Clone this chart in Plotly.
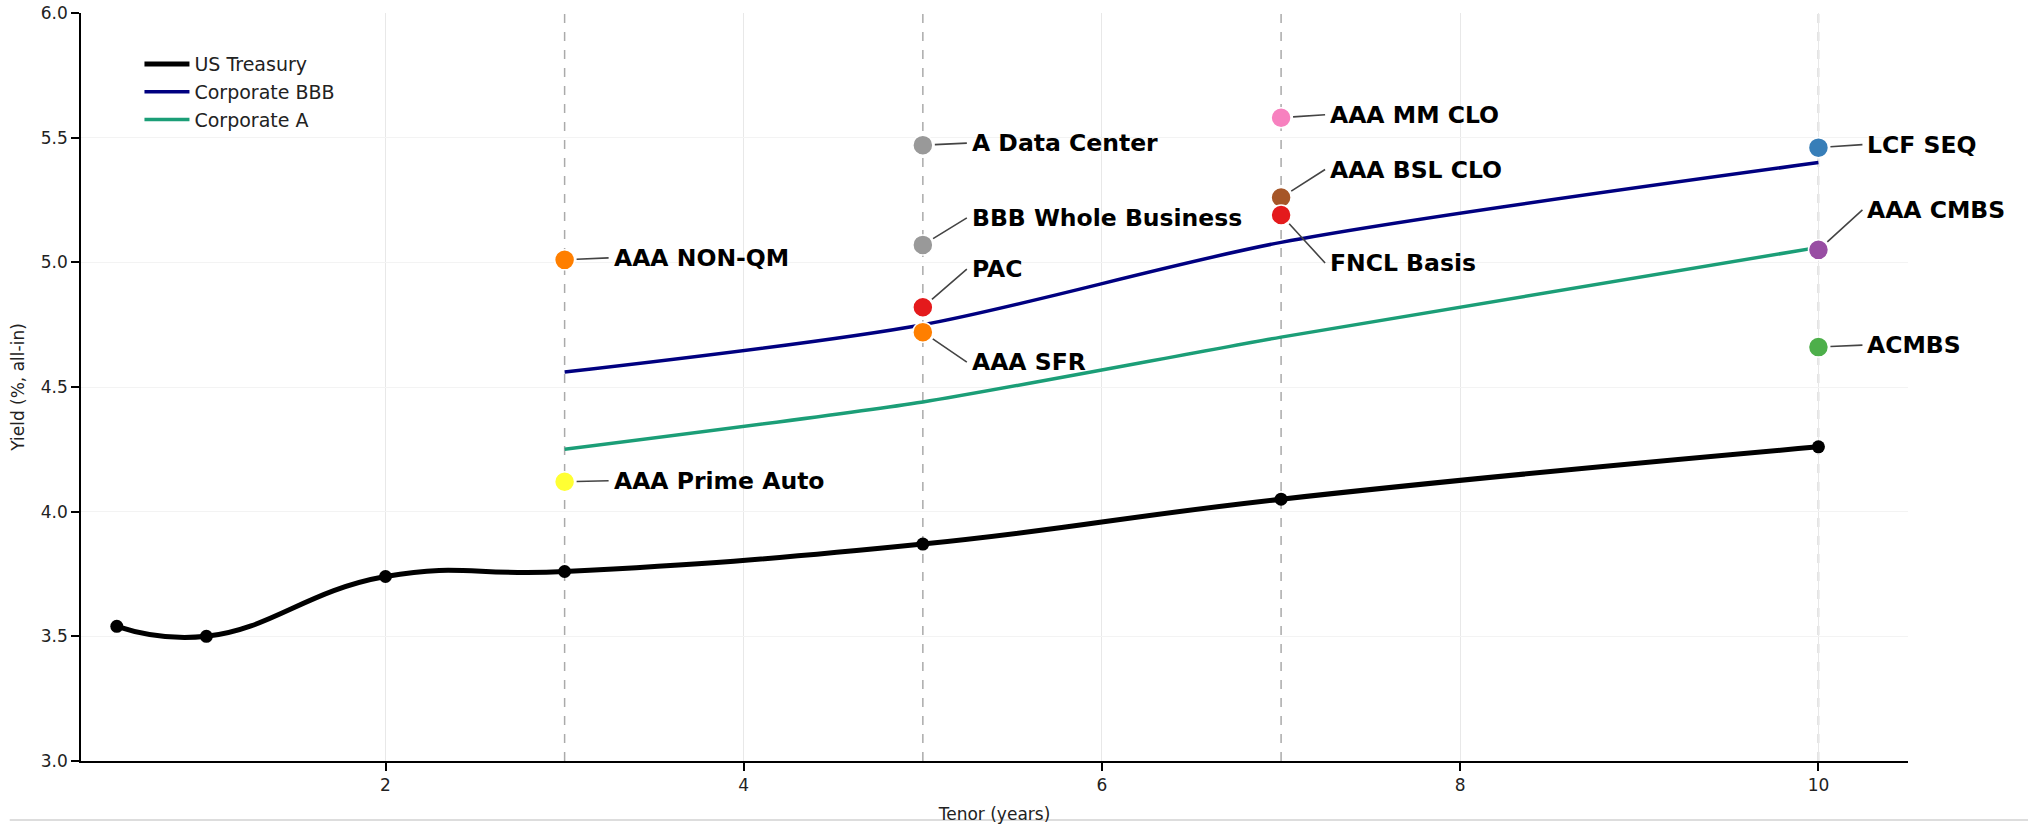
import plotly.graph_objects as go

# ---------------- data ----------------
ust_tenor = [0.5, 1, 2, 3, 5, 7, 10]
ust_yield = [3.54, 3.50, 3.74, 3.76, 3.87, 4.05, 4.26]

corp_tenor = [3, 5, 7, 10]
corp_bbb = [4.56, 4.75, 5.08, 5.40]
corp_a = [4.25, 4.44, 4.70, 5.06]

asset_names = ["AAA NON-QM", "AAA Prime Auto", "A Data Center", "BBB Whole Business",
               "PAC", "AAA SFR", "AAA MM CLO", "AAA BSL CLO", "FNCL Basis",
               "LCF SEQ", "AAA CMBS", "ACMBS"]
asset_tenor = [3, 3, 5, 5, 5, 5, 7, 7, 7, 10, 10, 10]
asset_yield = [5.01, 4.12, 5.47, 5.07, 4.82, 4.72, 5.58, 5.26, 5.19, 5.46, 5.05, 4.66]
asset_color = ["#ff7f00", "#ffff33", "#999999", "#999999", "#e41a1c", "#ff7f00",
               "#f781bf", "#a65628", "#e41a1c", "#377eb8", "#984ea3", "#4daf4a"]

marker_tenors = [3, 5, 7, 10]

# label offsets in pixels (style)
label_offsets = [(44, -2), (44, -1), (44, -2), (44, -27), (44, -38), (44, 30),
                 (44, -3), (44, -28), (44, 48), (44, -3), (44, -40), (44, -2)]

FONT = "DejaVu Sans"

fig = go.Figure()

# vertical dashed reference lines
for t in marker_tenors:
    fig.add_shape(type="line", xref="x", yref="paper", x0=t, x1=t, y0=0, y1=1,
                  line=dict(color="#aaaaaa", width=1.5, dash="dash"), layer="below")

fig.add_trace(go.Scatter(x=ust_tenor, y=ust_yield, mode="lines", name="US Treasury",
                         line=dict(color="black", width=5, shape="spline", smoothing=1.3)))
fig.add_trace(go.Scatter(x=ust_tenor, y=ust_yield, mode="markers", showlegend=False,
                         marker=dict(color="black", size=13)))
fig.add_trace(go.Scatter(x=corp_tenor, y=corp_bbb, mode="lines", name="Corporate BBB",
                         line=dict(color="#000080", width=3.5, shape="spline", smoothing=0.8)))
fig.add_trace(go.Scatter(x=corp_tenor, y=corp_a, mode="lines", name="Corporate A",
                         line=dict(color="#1b9e77", width=3.5, shape="spline", smoothing=0.6)))
fig.add_trace(go.Scatter(x=asset_tenor, y=asset_yield, mode="markers", showlegend=False,
                         marker=dict(color=asset_color, size=20,
                                     line=dict(color="white", width=1.5))))

for name, t, y, (dx, dy) in zip(asset_names, asset_tenor, asset_yield, label_offsets):
    fig.add_annotation(x=t, y=y, text="<b>" + name + "</b>", showarrow=True,
                       ax=dx, ay=dy, axref="pixel", ayref="pixel",
                       xanchor="left", yanchor="middle",
                       arrowhead=0, arrowwidth=1.6, arrowcolor="#444444",
                       standoff=12, borderpad=4,
                       font=dict(family=FONT, size=23.5, color="black"))

# light page-bottom rule
fig.add_shape(type="line", xref="paper", yref="paper", x0=-0.039, x1=1.066,
              y0=-0.079, y1=-0.079, line=dict(color="#dddddd", width=2))

fig.update_layout(
    width=2028, height=824,
    margin=dict(l=81, r=120, t=13, b=63, autoexpand=False),
    paper_bgcolor="white", plot_bgcolor="white",
    font=dict(family=FONT, size=17, color="#222222"),
    showlegend=True,
    legend=dict(x=0.032, y=0.957, xanchor="left", yanchor="top", itemwidth=45,
                bgcolor="rgba(255,255,255,0)", font=dict(size=19, color="#222222")),
    xaxis=dict(range=[0.3, 10.5], tick0=0, dtick=2, showgrid=True, automargin=False,
               gridcolor="#e8e8e8", gridwidth=1, zeroline=False,
               showline=True, linecolor="black", linewidth=1.5,
               ticks="outside", ticklen=8, tickwidth=1.5, tickcolor="black",
               title=dict(text="Tenor (years)", standoff=15, font=dict(size=17))),
    yaxis=dict(range=[3.0, 6.0], dtick=0.5, tickformat=".1f", showgrid=True, automargin=False,
               ticklabeloverflow="allow",
               gridcolor="#f3f3f3", gridwidth=1, zeroline=False,
               showline=True, linecolor="black", linewidth=1.5,
               ticks="outside", ticklen=8, tickwidth=1.5, tickcolor="black",
               title=dict(text="Yield (%, all-in)", standoff=12, font=dict(size=17))),
)

# remove the default 8px page margin so the figure fills the window exactly
fig.write_html("out.html", config={"displayModeBar": False},
               post_script="document.body.style.margin='0px';")
